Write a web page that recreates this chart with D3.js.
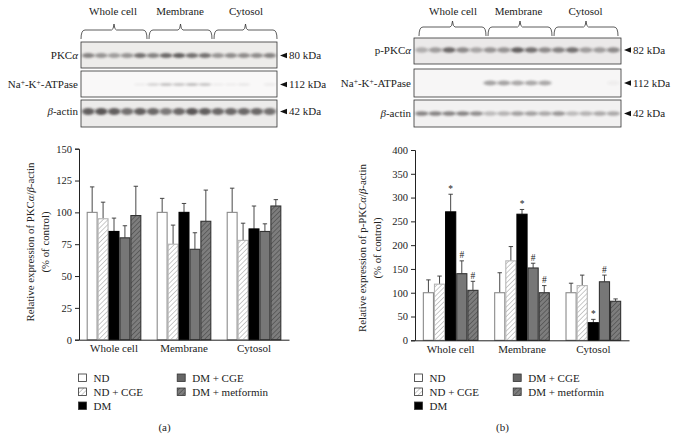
<!DOCTYPE html>
<html>
<head>
<meta charset="utf-8">
<script src="https://cdn.jsdelivr.net/npm/d3@7"></script>
<style>
  html, body { margin: 0; padding: 0; background: #fff; }
  text { font-family: "Liberation Serif", serif; fill: #222; }
</style>
</head>
<body>
<div id="chart"></div>
<script>
const groups = ["Whole cell", "Membrane", "Cytosol"]
const treatments = ["ND", "ND + CGE", "DM", "DM + CGE", "DM + metformin"]

// panel a, one row per treatment
const pkcValues = [[100, 100, 100], [95, 75, 78], [85, 100, 87], [80, 71, 85], [97.5, 93, 105]]
const pkcTops = [[120, 111, 119], [108, 90, 91.5], [95.5, 107, 105], [89.5, 84, 91], [120.5, 117.5, 110]]
const pkcTicks = [0, 25, 50, 75, 100, 125, 150]

// panel b
const pPkcValues = [[100, 100, 100], [118, 167, 115], [270, 265, 37], [140, 152, 123], [105, 100, 82]]
const pPkcTops = [[127, 142, 120], [135, 197, 137], [307, 275, 44], [167, 162, 137], [124, 115, 87]]
const pPkcMarks = [["", "", ""], ["", "", ""], ["*", "*", "*"], ["#", "#", "#"], ["#", "#", ""]]
const pPkcTicks = [0, 50, 100, 150, 200, 250, 300, 350, 400]

// blot band darkness per lane (0-1)
const blotA1 = [.6, .5, .45, .5, .7, .6, .75, .8, .7, .7, .5, .55, .55, .55, .6]
const blotA2 = [0, 0, 0, 0, .05, .18, .28, .26, .3, .26, .05, .05, .08, 0, .06]
const blotA3 = [.8, .85, .8, .7, .8, .75, .65, .75, .85, .8, .75, .75, .75, .75, .7]
const blotB1 = [.35, .45, .75, .55, .4, .5, .5, .8, .7, .55, .6, .7, .45, .45, .55]
const blotB2 = [0, 0, 0, 0, 0, .45, .45, .42, .42, .42, 0, 0, 0, 0, .04]
const blotB3 = [.6, .6, .6, .6, .55, .3, .35, .45, .45, .4, .5, .3, .35, .4, .4]

const svg = d3.select("#chart").append("svg")
  .attr("width", 676)
  .attr("height", 439)
  .style("display", "block")

const defs = svg.append("defs")
defs.append("filter").attr("id", "blur").attr("x", "-30%").attr("y", "-100%").attr("width", "160%").attr("height", "300%")
  .append("feGaussianBlur").attr("stdDeviation", "1.6 1.1")

function hatch(id, bg, line, w) {
  const p = defs.append("pattern").attr("id", id)
    .attr("width", 3.4).attr("height", 3.4)
    .attr("patternUnits", "userSpaceOnUse")
    .attr("patternTransform", "rotate(45)")
  p.append("rect").attr("width", 3.4).attr("height", 3.4).attr("fill", bg)
  p.append("line").attr("x1", 0).attr("x2", 0).attr("y1", 0).attr("y2", 3.4)
    .attr("stroke", line).attr("stroke-width", w)
}
hatch("hatchLight", "#fff", "#a0a0a0", 1.1)
hatch("hatchDark", "#7d7d7d", "#444", 1.1)

const fills = ["#fff", "url(#hatchLight)", "#000", "#777", "url(#hatchDark)"]
const strokes = ["#8a8a8a", "#b5b5b5", "#000", "#333", "#333"]

function drawChart(o) {
  const x = d3.scaleBand().domain(groups).range([o.x0, o.x1]).paddingInner(0.22).paddingOuter(0.11)
  const inner = d3.scaleBand().domain(d3.range(treatments.length)).range([0, x.bandwidth()])
  const y = d3.scaleLinear().domain(o.domain).range([o.y0, o.y1])
  const g = svg.append("g")

  treatments.forEach((t, i) => {
    groups.forEach((grp, j) => {
      const bx = x(grp) + inner(i)
      const cx = bx + inner.bandwidth() / 2
      // error bar goes behind the bar
      g.append("line").attr("x1", cx).attr("x2", cx)
        .attr("y1", y(o.values[i][j])).attr("y2", y(o.tops[i][j]))
        .attr("stroke", "#333").attr("stroke-width", 0.9)
      g.append("line").attr("x1", cx - 2.2).attr("x2", cx + 2.2)
        .attr("y1", y(o.tops[i][j])).attr("y2", y(o.tops[i][j]))
        .attr("stroke", "#333").attr("stroke-width", 0.9)
      g.append("rect")
        .attr("x", bx + 0.5).attr("width", inner.bandwidth() - 1)
        .attr("y", y(o.values[i][j])).attr("height", y(0) - y(o.values[i][j]))
        .attr("fill", fills[i]).attr("stroke", strokes[i]).attr("stroke-width", 1.1)
      if (o.marks && o.marks[i][j]) {
        g.append("text").attr("x", cx).attr("y", y(o.tops[i][j]) - 2.5)
          .attr("text-anchor", "middle").attr("font-size", 9.5).text(o.marks[i][j])
      }
    })
  })

  const yAxis = g.append("g").attr("transform", `translate(${o.x0},0)`)
    .call(d3.axisLeft(y).tickValues(o.ticks).tickSize(4).tickPadding(3))
  yAxis.selectAll("text").attr("font-size", 10.5).style("font-family", '"Liberation Serif", serif')
  const xAxis = g.append("g").attr("transform", `translate(0,${o.y0})`)
    .call(d3.axisBottom(x).tickSize(0).tickPadding(5))
  xAxis.selectAll("text").attr("font-size", 11).style("font-family", '"Liberation Serif", serif')
  g.selectAll(".domain").attr("stroke", "#222")
  g.selectAll(".tick line").attr("stroke", "#222")

  const lab = g.append("g").attr("transform", `translate(${o.labelX},${o.labelY}) rotate(-90)`)
    .attr("text-anchor", "middle").attr("font-size", 10.8)
  const t1 = lab.append("text").attr("y", 0)
  t1.append("tspan").text(o.label)
  t1.append("tspan").attr("font-style", "italic").text("α")
  t1.append("tspan").text("/")
  t1.append("tspan").attr("font-style", "italic").text("β")
  t1.append("tspan").text("-actin")
  lab.append("text").attr("y", 15).text("(% of control)")

  // legend
  const lx = [o.legX, o.legX + 98.7]
  const rows = [[0, 0], [0, 1], [0, 2], [1, 0], [1, 1]]
  treatments.forEach((t, i) => {
    const [c, r] = rows[i]
    const ly = 378 + r * 14
    g.append("rect").attr("x", lx[c]).attr("y", ly - 4).attr("width", 8).attr("height", 7.5)
      .attr("fill", i == 3 ? "#666" : fills[i]).attr("stroke", "#333").attr("stroke-width", 0.8)
    g.append("text").attr("x", lx[c] + 15).attr("y", ly + 3.5).attr("font-size", 11).text(t)
  })
  g.append("text").attr("x", o.capX).attr("y", 431).attr("text-anchor", "middle").attr("font-size", 11).text(o.caption)
}

drawChart({
  x0: 79, x1: 289, y0: 339.7, y1: 148.7, domain: [0, 150],
  values: pkcValues, tops: pkcTops, ticks: pkcTicks,
  label: "Relative expression of PKC", labelX: 33.5, labelY: 242,
  legX: 78.5, capX: 164.5, caption: "(a)"
})
drawChart({
  x0: 415, x1: 629, y0: 340.3, y1: 150, domain: [0, 400],
  values: pPkcValues, tops: pPkcTops, marks: pPkcMarks, ticks: pPkcTicks,
  label: "Relative expression of p-PKC", labelX: 366, labelY: 248,
  legX: 414.5, capX: 502.5, caption: "(b)"
})

function drawBlot(o) {
  const lane = d3.scaleBand().domain(d3.range(o.bands.length)).range([o.x0, o.x1]).padding(0.12)
  const g = svg.append("g")
  g.append("rect").attr("x", o.x0).attr("y", o.y0).attr("width", o.x1 - o.x0).attr("height", o.y1 - o.y0)
    .attr("fill", o.bg)
  const dark = d3.scaleLinear().domain([0, 1]).range([0, 0.9])
  g.selectAll("ellipse").data(o.bands).join("ellipse")
    .attr("cx", (d, i) => lane(i) + lane.bandwidth() / 2)
    .attr("cy", o.cy)
    .attr("rx", lane.bandwidth() / 2 + 0.5)
    .attr("ry", o.ry)
    .attr("fill", "#2d2a2a")
    .attr("opacity", d => dark(d))
    .attr("filter", "url(#blur)")
  g.append("rect").attr("x", o.x0).attr("y", o.y0).attr("width", o.x1 - o.x0).attr("height", o.y1 - o.y0)
    .attr("fill", "none").attr("stroke", "#333").attr("stroke-width", 0.8)
  g.append("path").attr("fill", "#111")
    .attr("d", d3.line()([[o.x1 + 3, o.cy], [o.x1 + 10, o.cy - 2.8], [o.x1 + 10, o.cy + 2.8]]) + "Z")
  g.append("text").attr("x", o.x1 + 12).attr("y", o.cy + 3.5).attr("font-size", 11).text(o.kda)
  const t = g.append("text").attr("x", o.x0 - 3).attr("y", o.cy + 3.5).attr("text-anchor", "end").attr("font-size", 11)
  o.name(t)
}

function brace(x0, x1, y) {
  const m = (x0 + x1) / 2
  svg.append("path").attr("fill", "none").attr("stroke", "#333").attr("stroke-width", 0.8)
    .attr("d", `M${x0},${y + 9} Q${x0},${y} ${x0 + 4},${y} L${m - 2.5},${y} Q${m - 0.5},${y} ${m},${y - 6} Q${m + 0.5},${y} ${m + 2.5},${y} L${x1 - 4},${y} Q${x1},${y} ${x1},${y + 9}`)
}

function pkcName(t, prefix) {
  t.append("tspan").text(prefix)
  t.append("tspan").attr("font-style", "italic").text("α")
}
function naName(t) {
  t.append("tspan").text("Na")
  t.append("tspan").attr("dy", -3).attr("font-size", 7.5).text("+")
  t.append("tspan").attr("dy", 3).text("-K")
  t.append("tspan").attr("dy", -3).attr("font-size", 7.5).text("+")
  t.append("tspan").attr("dy", 3).text("-ATPase")
}
function actinName(t) {
  t.append("tspan").attr("font-style", "italic").text("β")
  t.append("tspan").text("-actin")
}

drawBlot({ x0: 81, x1: 277, y0: 42, y1: 68, cy: 55.5, ry: 2.6, bg: "#edecea", bands: blotA1, kda: "80 kDa", name: t => pkcName(t, "PKC") })
drawBlot({ x0: 81, x1: 277, y0: 71, y1: 97, cy: 84.5, ry: 1.6, bg: "#f9f8f8", bands: blotA2, kda: "112 kDa", name: naName })
drawBlot({ x0: 81, x1: 277, y0: 100, y1: 127, cy: 111.5, ry: 3.4, bg: "#ecebea", bands: blotA3, kda: "42 kDa", name: actinName })
drawBlot({ x0: 414, x1: 621, y0: 38, y1: 64, cy: 50, ry: 2.8, bg: "#ebe9e9", bands: blotB1, kda: "82 kDa", name: t => pkcName(t, "p-PKC") })
drawBlot({ x0: 414, x1: 621, y0: 69, y1: 97, cy: 83, ry: 2.6, bg: "#f7f6f6", bands: blotB2, kda: "112 kDa", name: naName })
drawBlot({ x0: 414, x1: 621, y0: 100, y1: 127, cy: 113.5, ry: 2.3, bg: "#f2f1f1", bands: blotB3, kda: "42 kDa", name: actinName })

const braceLabels = [
  { x: [[81, 147], [149, 212], [214, 277]], y: 30, lab: [113, 180, 246], ly: 15 },
  { x: [[419, 486], [488, 552], [554, 618]], y: 27, lab: [453, 518.5, 585.5], ly: 15 }
]
braceLabels.forEach(b => {
  b.x.forEach((s, i) => {
    brace(s[0], s[1], b.y)
    svg.append("text").attr("x", b.lab[i]).attr("y", b.ly).attr("text-anchor", "middle").attr("font-size", 11).text(groups[i])
  })
})
</script>
</body>
</html>
